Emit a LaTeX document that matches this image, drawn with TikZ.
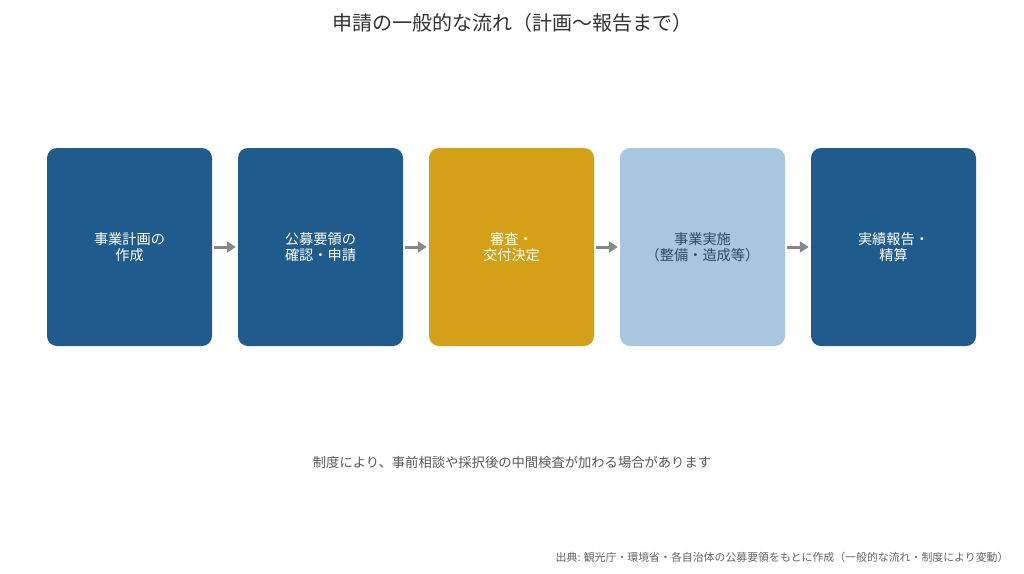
\documentclass[tikz,border=0pt]{standalone}
\usepackage{fontspec}
\setmainfont{Noto Sans CJK JP}
\usetikzlibrary{arrows.meta}
\definecolor{dblue}{HTML}{1F5B8C}
\definecolor{gold}{HTML}{D4A017}
\definecolor{lblue}{HTML}{A9C6E0}
\definecolor{ltext}{HTML}{2D4A66}
\definecolor{arr}{HTML}{888888}
\tikzset{
  stepbox/.style={rounded corners=10pt, minimum width=165pt, minimum height=198pt, align=center, font=\fontsize{14.2}{15.5}\selectfont, inner sep=0pt},
  flow/.style={draw=arr, line width=3pt, -{Triangle[length=9pt,width=11pt]}}
}
\begin{document}
\begin{tikzpicture}[x=1pt,y=-1pt]
\useasboundingbox (0,0) rectangle (1024,573);
\fill[white] (0,0) rectangle (1024,573);
\node[font=\fontsize{20}{24}\selectfont, text=black!80] (title) at (512,23) {申請の一般的な流れ（計画〜報告まで）};
\node[stepbox, fill=dblue, text=white] (b1) at (129.5,247) {事業計画の\\作成};
\node[stepbox, fill=dblue, text=white] (b2) at (320.5,247) {公募要領の\\確認・申請};
\node[stepbox, fill=gold, text=white] (b3) at (511.5,247) {審査・\\交付決定};
\node[stepbox, fill=lblue, text=ltext] (b4) at (702.5,247) {事業実施\\（整備・造成等）};
\node[stepbox, fill=dblue, text=white] (b5) at (893.5,247) {実績報告・\\精算};
\draw[flow] ([xshift=2pt]b1.east) -- ([xshift=-2pt]b2.west);
\draw[flow] ([xshift=2pt]b2.east) -- ([xshift=-2pt]b3.west);
\draw[flow] ([xshift=2pt]b3.east) -- ([xshift=-2pt]b4.west);
\draw[flow] ([xshift=2pt]b4.east) -- ([xshift=-2pt]b5.west);
\node[font=\fontsize{13.3}{15}\selectfont, text=black!65] (note) at (512,462) {制度により、事前相談や採択後の中間検査が加わる場合があります};
\node[font=\fontsize{10.9}{13}\selectfont, text=black!60, anchor=east] (src) at (1012,557) {出典: 観光庁・環境省・各自治体の公募要領をもとに作成（一般的な流れ・制度により変動）};
\end{tikzpicture}
\end{document}
